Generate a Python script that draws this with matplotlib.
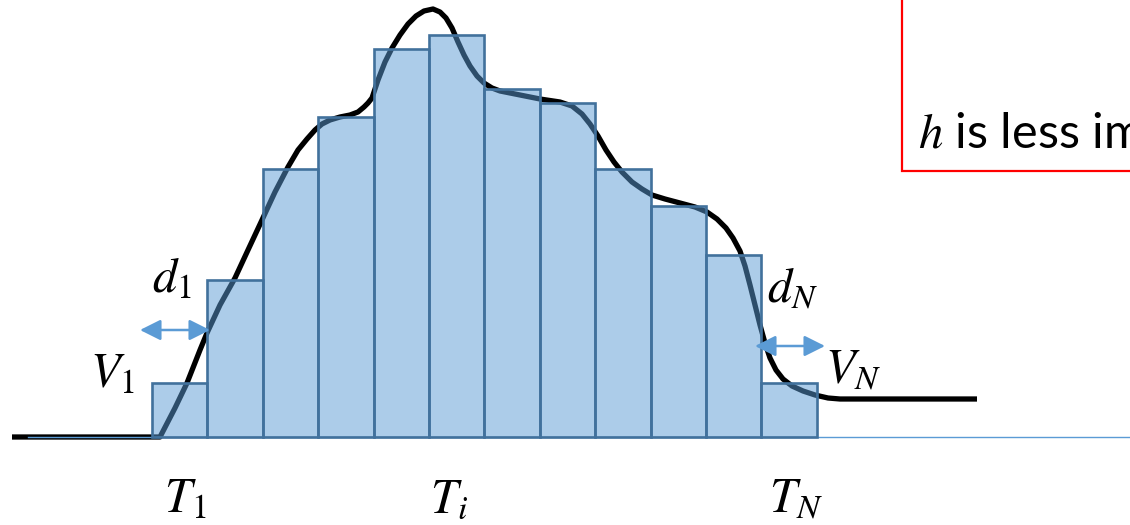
import numpy as np
import matplotlib
matplotlib.use('Agg')
import matplotlib.pyplot as plt
from matplotlib.patches import Rectangle

# bar slots (time units) and their heights
SLOT_W = 55.4
bar_heights = [54, 157, 268, 320, 388, 402, 348, 334, 268, 231, 182, 54]

# continuous signal: (time, value)
curve_t = [-140, 8, 23, 35, 48, 55, 68, 83, 96, 110, 123, 136, 146, 155, 163, 170,
           178, 188, 198, 206, 212, 216, 220, 226, 233, 240, 248, 256, 264, 272,
           281, 288, 294, 300, 306, 312, 318, 325, 332, 340, 348, 368, 388, 408,
           420, 430, 438, 446, 454, 462, 470, 480, 490, 500, 513, 528, 543, 555,
           565, 574, 581, 588, 593, 598, 603, 608, 613, 618, 624, 631, 640, 651,
           663, 676, 688, 825]
curve_v = [0, 0, 29, 54, 87, 104, 132, 159, 187, 217, 245, 270, 287, 298, 307, 313,
           317, 320, 322, 325, 330, 334, 339, 357, 375, 389, 402, 413, 421, 426,
           428, 425, 419, 409, 395, 382, 371, 361, 354, 349, 346, 342, 338, 335,
           331, 323, 313, 301, 287, 275, 265, 255, 248, 242, 238, 234, 230, 225,
           218, 209, 199, 186, 171, 152, 132, 112, 94, 79, 67, 58, 51, 46,
           42, 39, 38, 38]

BLUE = '#5B9BD5'
EDGE = '#41719C'

plt.rcParams['mathtext.fontset'] = 'stix'

fig = plt.figure(figsize=(11.3, 5.25), dpi=100)
ax = fig.add_axes([0, 0, 1, 1])
ax.set_xlim(-152, 978)
ax.set_ylim(-88, 437)
ax.axis('off')

# signal
ax.plot(curve_t, curve_v, color='black', lw=3.8, solid_capstyle='butt', zorder=1)

# baseline
ax.plot([-124, 978], [0, 0], color=BLUE, lw=1.0, zorder=1.5)

# bars
lefts = np.arange(len(bar_heights)) * SLOT_W
ax.bar(lefts, bar_heights, width=SLOT_W, align='edge',
       facecolor=(0.357, 0.608, 0.835, 0.5), edgecolor=EDGE, linewidth=1.9, zorder=2)

# double arrows
arrow_kw = dict(arrowstyle='<|-|>,head_length=0.9,head_width=0.45',
                color=BLUE, lw=1.8, shrinkA=0, shrinkB=0, mutation_scale=14)
ax.annotate('', xy=(58, 107), xytext=(-12, 107), arrowprops=arrow_kw, zorder=4)
ax.annotate('', xy=(673, 91), xytext=(603, 91), arrowprops=arrow_kw, zorder=4)

# labels
lab = dict(fontsize=35, ha='left', va='baseline', zorder=5)
ax.text(-62, 50, r'$V_1$', **lab)
ax.text(0, 145, r'$d_1$', **lab)
ax.text(12, -75, r'$T_1$', **lab)
ax.text(278, -75, r'$T_i$', **lab)
ax.text(617, -75, r'$T_N$', **lab)
ax.text(615, 135, r'$d_N$', **lab)
ax.text(673, 54, r'$V_N$', **lab)

# red note box
ax.add_patch(Rectangle((750, 266), 400, 300, facecolor='white', edgecolor='red',
                       lw=1.6, zorder=3))
ax.text(766, 290, r'$h$ is less im', fontsize=35, family=['Lato', 'DejaVu Sans'],
        ha='left', va='baseline', zorder=5)

fig.savefig('out.png', dpi=100)
